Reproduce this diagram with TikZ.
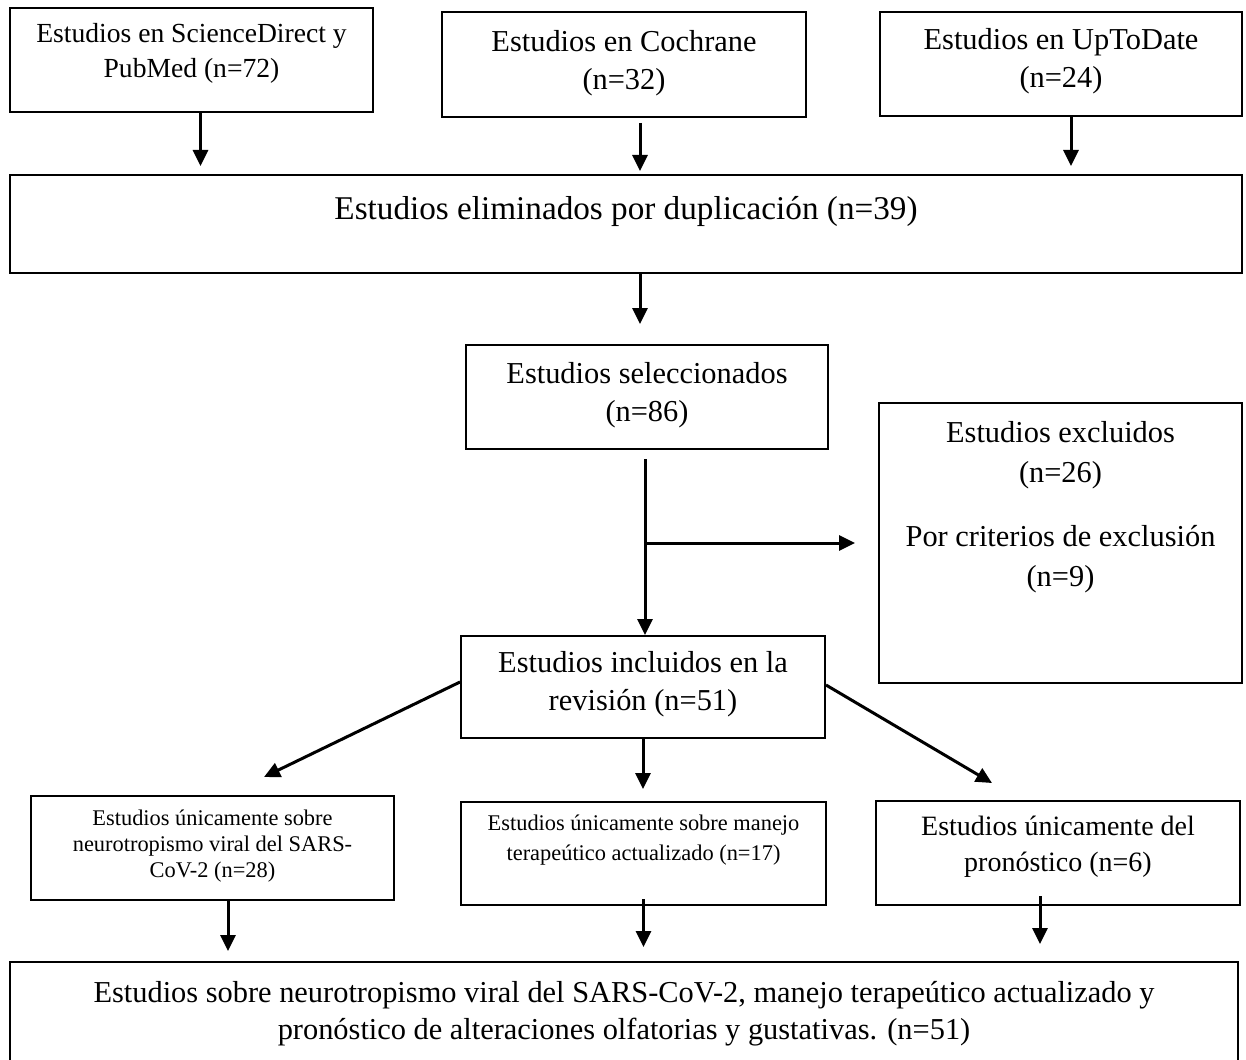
\documentclass[tikz,border=0pt]{standalone}
\usepackage{fontspec}
\setmainfont{Liberation Serif}
\usetikzlibrary{arrows.meta}

\begin{document}
\begin{tikzpicture}[
        x=0.5pt, y=-0.5pt,
        box/.style={draw, line width=1pt, minimum width=181.5pt, minimum height=52pt, inner sep=0pt},
        txt/.style={align=center, inner sep=0pt, font=\fontsize{15.2}{19}\selectfont},
        arr/.style={line width=1.5pt, -{Triangle[length=8pt, width=7.5pt]}}
    ]
        \useasboundingbox (0,0) rectangle (1246,1059);

        % Sources
        \node[box] (sd) at (191.5,60) {};
        \node[txt, font=\fontsize{13.8}{17.5}\selectfont] (sd-t) at (191.5,53) {Estudios en ScienceDirect y\\PubMed (n=72)};

        \node[box, minimum width=182pt, minimum height=52.5pt] (cochrane) at (624,64.5) {};
        \node[txt] (cochrane-t) at (624,63.5) {Estudios en Cochrane\\(n=32)};

        \node[box, minimum width=181pt] (uptodate) at (1061,64) {};
        \node[txt] (uptodate-t) at (1061,61.5) {Estudios en UpToDate\\(n=24)};

        % Duplicates
        \node[box, minimum width=616pt, minimum height=49pt] (dup) at (626,224) {};
        \node[txt, font=\fontsize{16.6}{20}\selectfont] (dup-t) at (626,211) {Estudios eliminados por duplicación (n=39)};

        % Screening
        \node[box, minimum width=181pt] (sel) at (647,397) {};
        \node[txt] (sel-t) at (647,395) {Estudios seleccionados\\(n=86)};

        \node[box, minimum height=140pt] (excl) at (1060.5,543) {};
        \node[txt, font=\fontsize{15.2}{20}\selectfont] (excl-t) at (1060.5,507) {Estudios excluidos\\(n=26)\\[12pt]Por criterios de exclusión\\(n=9)};

        \node[box, minimum width=182pt, minimum height=51pt] (incl) at (643,687) {};
        \node[txt] (incl-t) at (643,684) {Estudios incluidos en la\\revisión (n=51)};

        % Groups
        \node[box] (neuro) at (212.5,848) {};
        \node[txt, font=\fontsize{11.2}{13}\selectfont] (neuro-t) at (212.5,846) {Estudios únicamente sobre\\neurotropismo viral del SARS-\\CoV-2 (n=28)};

        \node[box, minimum width=182.5pt, minimum height=51.5pt] (manejo) at (643.5,853.5) {};
        \node[txt, font=\fontsize{11.2}{15}\selectfont] (manejo-t) at (643.5,840) {Estudios únicamente sobre manejo\\terapeútico actualizado (n=17)};

        \node[box, minimum width=182pt] (pron) at (1058,853) {};
        \node[txt, font=\fontsize{14}{18}\selectfont] (pron-t) at (1058,846.5) {Estudios únicamente del\\pronóstico (n=6)};

        % Total
        \node[box, minimum width=614pt, minimum height=56.5pt] (total) at (624,1018.5) {};
        \node[txt, font=\fontsize{15.2}{18.5}\selectfont] (total-t) at (624,1014) {Estudios sobre neurotropismo viral del SARS-CoV-2, manejo terapeútico actualizado y\\pronóstico de alteraciones olfatorias y gustativas. (n=51)};

        % Arrows
        \draw[arr, shorten >=4pt] ([xshift=4.5pt]sd.south) -- ([xshift=4.5pt]sd.south |- dup.north);
        \draw[arr, shorten <=2.5pt, shorten >=1.5pt] ([xshift=8pt]cochrane.south) -- ([xshift=8pt]cochrane.south |- dup.north);
        \draw[arr, shorten >=4pt] ([xshift=5pt]uptodate.south) -- ([xshift=5pt]uptodate.south |- dup.north);
        \draw[arr, shorten >=10pt] ([xshift=-3.5pt]sel.north |- dup.south) -- ([xshift=-3.5pt]sel.north);

        \draw[arr, shorten <=4.5pt] ([xshift=-1pt]sel.south) -- ([xshift=-1pt]sel.south |- incl.north);
        \draw[arr, shorten >=11.5pt] ([xshift=-1pt]sel.south |- excl.west) -- (excl.west);

        \coordinate (neuro-in) at (264,777);
        \coordinate (pron-in) at (992,783);
        \draw[arr] ([yshift=2.5pt]incl.west) -- (neuro-in);
        \draw[arr, shorten >=6pt] (incl.south) -- (incl.south |- manejo.north);
        \draw[arr] ([yshift=1pt]incl.east) -- (pron-in);

        \draw[arr, shorten >=5pt] ([xshift=7.75pt]neuro.south) -- ([xshift=7.75pt]neuro.south |- total.north);
        \draw[arr, shorten <=-3.5pt, shorten >=7pt] (manejo.south) -- (manejo.south |- total.north);
        \draw[arr, shorten <=-5pt, shorten >=8.5pt] ([xshift=-9pt]pron.south) -- ([xshift=-9pt]pron.south |- total.north);
    \end{tikzpicture}
\end{document}
